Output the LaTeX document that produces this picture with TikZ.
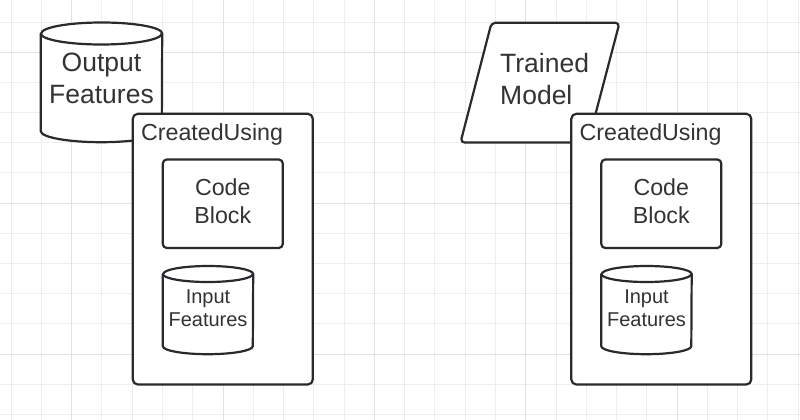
\documentclass[tikz,border=0pt]{standalone}
\usepackage{fontspec}
\setmainfont{Liberation Sans}
\definecolor{inkline}{RGB}{40,42,46}
\definecolor{inktext}{RGB}{51,51,51}
\definecolor{gridminor}{RGB}{238,238,238}
\definecolor{gridmajor}{RGB}{226,226,226}

\begin{document}
\begin{tikzpicture}[
    x=1pt, y=-1pt,
    outline/.style={draw=inkline, line width=2.2pt, fill=white, line join=round},
    box/.style={outline, rectangle, rounded corners=4pt, inner sep=0pt},
    body/.style={rectangle, inner sep=0pt},
    bigtxt/.style={text=inktext, inner sep=0pt, align=center, font=\fontsize{26.5}{32}\selectfont},
    midtxt/.style={text=inktext, inner sep=0pt, align=center, font=\fontsize{23.2}{28}\selectfont},
    smalltxt/.style={text=inktext, inner sep=0pt, align=center, font=\fontsize{20}{23.3}\selectfont},
    minorgrid/.style={draw=gridminor, line width=1pt},
    majorgrid/.style={draw=gridmajor, line width=1pt}
]

% Canvas and grid
\useasboundingbox (0,0) rectangle (800,420);
\fill[white] (0,0) rectangle (800,420);
\foreach \k in {-2,...,24}
    \draw[minorgrid] ({71.7+30.27*\k},0) -- ({71.7+30.27*\k},420);
\foreach \k in {-1,...,12}
    \draw[minorgrid] (0,{52.3+30.17*\k}) -- (800,{52.3+30.17*\k});
\foreach \k in {0,5,...,20}
    \draw[majorgrid] ({71.7+30.27*\k},0) -- ({71.7+30.27*\k},420);
\foreach \k in {0,5,10}
    \draw[majorgrid] (0,{52.3+30.17*\k}) -- (800,{52.3+30.17*\k});

% Left: output features store
\node[body, minimum width=121, minimum height=97.3] (outfeat) at (101.5, 82.35) {};
\draw[outline] (outfeat.north west) -- (outfeat.south west)
    arc[start angle=180, end angle=0, x radius=60.5, y radius=11]
    -- (outfeat.north east)
    arc[start angle=0, end angle=-180, x radius=60.5, y radius=11] -- cycle;
\draw[outline, fill=none] (outfeat.north west)
    arc[start angle=180, end angle=0, x radius=60.5, y radius=11];
\node[bigtxt] (outfeat-txt) at (101.5, 78.4) {Output\\Features};

% Right: trained model (parallelogram)
\draw[outline, rounded corners=4pt] (491.5,22.8) -- (619.5,22.8) -- (588,142.5) -- (460.5,142.5) -- cycle;
\node[bigtxt, align=left, anchor=west] (model-txt) at (500, 78.8) {Trained\\Model};

% Left: CreatedUsing container
\node[box, rounded corners=5pt, minimum width=180, minimum height=270.7] (using-a) at (222.8, 249.15) {};
\node[midtxt, anchor=base west] (using-a-txt) at (141, 140.7) {CreatedUsing};
\node[box, minimum width=120, minimum height=88.5] (code-a) at (222.8, 203.75) {};
\node[midtxt] (code-a-txt) at (222.8, 201.2) {Code\\Block};

\node[body, minimum width=90, minimum height=71.8] (infeat-a) at (208, 310.1) {};
\draw[outline] (infeat-a.north west) -- (infeat-a.south west)
    arc[start angle=180, end angle=0, x radius=45, y radius=8]
    -- (infeat-a.north east)
    arc[start angle=0, end angle=-180, x radius=45, y radius=8] -- cycle;
\draw[outline, fill=none] (infeat-a.north west)
    arc[start angle=180, end angle=0, x radius=45, y radius=8];
\node[smalltxt] (infeat-a-txt) at (208, 307.9) {Input\\Features};

% Right: CreatedUsing container
\node[box, rounded corners=5pt, minimum width=180, minimum height=270.7] (using-b) at (661.3, 249.15) {};
\node[midtxt, anchor=base west] (using-b-txt) at (579.5, 140.7) {CreatedUsing};
\node[box, minimum width=120, minimum height=88.5] (code-b) at (661.3, 203.75) {};
\node[midtxt] (code-b-txt) at (661.3, 201.2) {Code\\Block};

\node[body, minimum width=90, minimum height=71.8] (infeat-b) at (646.5, 310.1) {};
\draw[outline] (infeat-b.north west) -- (infeat-b.south west)
    arc[start angle=180, end angle=0, x radius=45, y radius=8]
    -- (infeat-b.north east)
    arc[start angle=0, end angle=-180, x radius=45, y radius=8] -- cycle;
\draw[outline, fill=none] (infeat-b.north west)
    arc[start angle=180, end angle=0, x radius=45, y radius=8];
\node[smalltxt] (infeat-b-txt) at (646.5, 307.9) {Input\\Features};

\end{tikzpicture}
\end{document}
